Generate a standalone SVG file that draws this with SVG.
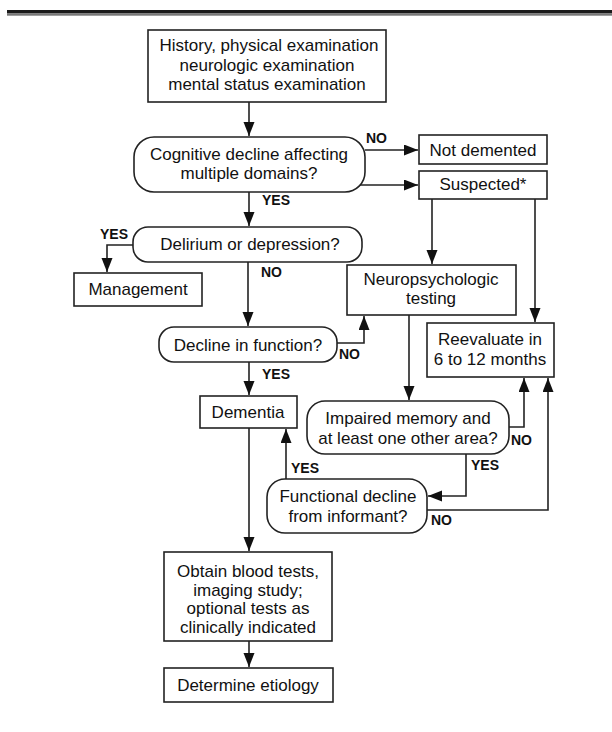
<svg xmlns="http://www.w3.org/2000/svg" width="612" height="732" viewBox="0 0 612 732">
<style>
.box{fill:#fff;stroke:#222;stroke-width:1.6}
.t{font-family:"Liberation Sans",Arial,sans-serif;font-size:17px;fill:#111;text-anchor:middle}
.lb{font-family:"Liberation Sans",Arial,sans-serif;font-size:14px;font-weight:bold;fill:#111}
.c{fill:none;stroke:#222;stroke-width:1.6}
</style>
<defs>
<marker id="ah" markerUnits="userSpaceOnUse" markerWidth="16" markerHeight="12" refX="14" refY="5.5" orient="auto">
<path d="M0,0 L14,5.5 L0,11 z" fill="#111"/>
</marker>
</defs>
<rect x="7" y="10" width="605" height="3.5" fill="#1a1a1a"/>
<rect x="7" y="13.5" width="605" height="2.2" fill="#777"/>

<g id="history"><rect class="box" x="148" y="30" width="238" height="72"/>
<text class="t" x="269" y="51">History, physical examination</text>
<text class="t" x="267" y="71">neurologic examination</text>
<text class="t" x="267" y="90">mental status examination</text></g>

<g id="cognitive"><rect class="box" x="134" y="137" width="231" height="55" rx="20"/>
<text class="t" x="249" y="160">Cognitive decline affecting</text>
<text class="t" x="249" y="179">multiple domains?</text></g>

<g id="notdemented"><rect class="box" x="419" y="135" width="128" height="29"/>
<text class="t" x="483" y="156">Not demented</text></g>

<g id="suspected"><rect class="box" x="419" y="171" width="128" height="28"/>
<text class="t" x="483" y="190">Suspected*</text></g>

<g id="delirium"><rect class="box" x="133" y="227" width="229" height="35" rx="15"/>
<text class="t" x="250" y="250">Delirium or depression?</text></g>

<g id="management"><rect class="box" x="74" y="273" width="128" height="33"/>
<text class="t" x="138" y="295">Management</text></g>

<g id="neuro"><rect class="box" x="347" y="265" width="169" height="50"/>
<text class="t" x="431" y="285">Neuropsychologic</text>
<text class="t" x="431" y="304">testing</text></g>

<g id="decline"><rect class="box" x="159" y="327" width="178" height="35" rx="15"/>
<text class="t" x="248" y="351">Decline in function?</text></g>

<g id="reevaluate"><rect class="box" x="427" y="323" width="127" height="54"/>
<text class="t" x="490" y="345">Reevaluate in</text>
<text class="t" x="490" y="365">6 to 12 months</text></g>

<g id="dementia"><rect class="box" x="200" y="396" width="97" height="32"/>
<text class="t" x="248" y="418">Dementia</text></g>

<g id="impaired"><rect class="box" x="307" y="401" width="202" height="53" rx="18"/>
<text class="t" x="408" y="424">Impaired memory and</text>
<text class="t" x="408" y="444">at least one other area?</text></g>

<g id="functional"><rect class="box" x="267" y="479" width="160" height="54" rx="18"/>
<text class="t" x="348" y="502">Functional decline</text>
<text class="t" x="348" y="522">from informant?</text></g>

<g id="obtain"><rect class="box" x="164" y="552" width="168" height="89"/>
<text class="t" x="248" y="577">Obtain blood tests,</text>
<text class="t" x="248" y="596">imaging study;</text>
<text class="t" x="248" y="614">optional tests as</text>
<text class="t" x="248" y="633">clinically indicated</text></g>

<g id="etiology"><rect class="box" x="164" y="668" width="169" height="34"/>
<text class="t" x="248" y="691">Determine etiology</text></g>

<g id="connectors">
<path class="c" d="M249,102 V136" marker-end="url(#ah)"/>
<path class="c" d="M365,150 H418" marker-end="url(#ah)"/>
<path class="c" d="M360,185 H418" marker-end="url(#ah)"/>
<path class="c" d="M249,192 V226" marker-end="url(#ah)"/>
<path class="c" d="M432,199 V264" marker-end="url(#ah)"/>
<path class="c" d="M535,199 V322" marker-end="url(#ah)"/>
<path class="c" d="M133,245 H107 V272" marker-end="url(#ah)"/>
<path class="c" d="M248,262 V326" marker-end="url(#ah)"/>
<path class="c" d="M337,343 H364 V316" marker-end="url(#ah)"/>
<path class="c" d="M249,362 V395" marker-end="url(#ah)"/>
<path class="c" d="M409,315 V400" marker-end="url(#ah)"/>
<path class="c" d="M509,427 H524 V378" marker-end="url(#ah)"/>
<path class="c" d="M466,454 V496 H428" marker-end="url(#ah)"/>
<path class="c" d="M286,479 V429" marker-end="url(#ah)"/>
<path class="c" d="M427,510 H548 V378" marker-end="url(#ah)"/>
<path class="c" d="M249,428 V551" marker-end="url(#ah)"/>
<path class="c" d="M249,641 V667" marker-end="url(#ah)"/>
<text class="lb" x="366" y="143">NO</text>
<text class="lb" x="262" y="205">YES</text>
<text class="lb" x="100" y="239">YES</text>
<text class="lb" x="261" y="277">NO</text>
<text class="lb" x="339" y="359">NO</text>
<text class="lb" x="262" y="379">YES</text>
<text class="lb" x="511" y="445">NO</text>
<text class="lb" x="471" y="470">YES</text>
<text class="lb" x="291" y="473">YES</text>
<text class="lb" x="431" y="525">NO</text>
</g>
</svg>
